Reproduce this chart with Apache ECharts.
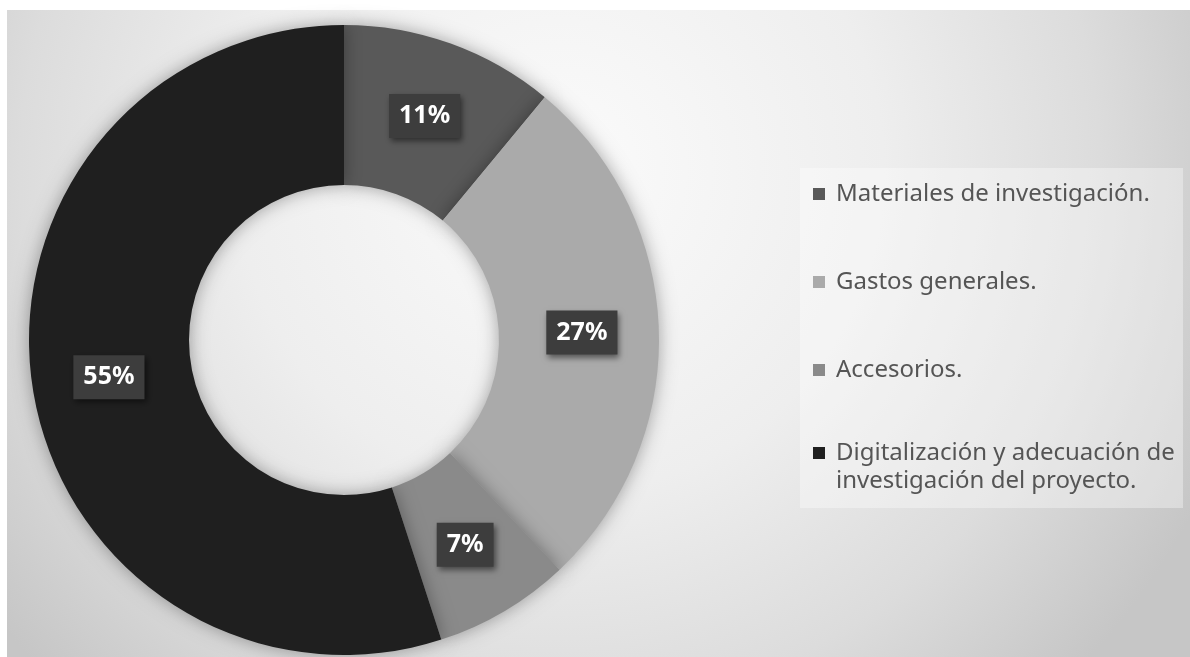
<!DOCTYPE html>
<html>
<head>
<meta charset="utf-8">
<script src="https://cdn.jsdelivr.net/npm/echarts@6/dist/echarts.min.js"></script>
<style>
    html, body { margin: 0; padding: 0; background: #ffffff; }
    #chartDonut { width: 1190px; height: 657px; }
</style>
</head>
<body>
<div id="chartDonut"></div>
<script>
    // datos
    var categorias = [
        'Materiales de investigación.',
        'Gastos generales.',
        'Accesorios.',
        'Digitalización y adecuación de investigación del proyecto.'
    ];
    var porcentajes = [11, 27, 7, 55];
    var colores = ['#595959', '#aaaaaa', '#8a8a8a', '#1f1f1f'];

    // cortes de línea de la leyenda como en el original
    var lineasLeyenda = {
        'Digitalización y adecuación de investigación del proyecto.':
            ['Digitalización y adecuación de', 'investigación del proyecto.']
    };

    function textoLeyenda(name) {
        var lineas = lineasLeyenda[name];
        if (!lineas) return '{t|' + name + '}';
        // línea vacía arriba para que el icono quede junto a la primera línea
        return '{t| }\n' + lineas.map(function (l) { return '{t|' + l + '}'; }).join('\n');
    }

    var estiloLeyenda = {
        color: '#555555',
        fontFamily: 'Noto Sans',
        fontSize: 24,
        lineHeight: 28,
        rich: {
            t: {
                color: '#555555',
                fontFamily: 'Noto Sans',
                fontSize: 24,
                lineHeight: 28,
                padding: [0, 0, 0, 6]
            }
        }
    };

    var chartDonut = echarts.init(document.getElementById('chartDonut'));

    chartDonut.setOption({
        backgroundColor: '#ffffff',
        color: colores,
        graphic: [
            {
                type: 'rect',
                z: -10,
                shape: { x: 7, y: 10, width: 1183, height: 647 },
                style: {
                    fill: {
                        type: 'radial', x: 560, y: 170, r: 720, global: true,
                        colorStops: [
                            { offset: 0, color: '#fbfbfb' },
                            { offset: 0.45, color: '#eeeeee' },
                            { offset: 0.75, color: '#dcdcdc' },
                            { offset: 1, color: '#c6c6c6' }
                        ]
                    }
                }
            },
            {
                type: 'rect',
                z: -9,
                shape: { x: 800, y: 168, width: 383, height: 340 },
                style: { fill: 'rgba(255,255,255,0.35)' }
            }
        ],
        legend: [
            {
                orient: 'vertical',
                left: 813,
                top: 180,
                itemWidth: 12,
                itemHeight: 12,
                itemGap: 60,
                icon: 'rect',
                padding: 0,
                data: categorias.slice(0, 3),
                formatter: textoLeyenda,
                textStyle: estiloLeyenda
            },
            {
                orient: 'vertical',
                left: 813,
                top: 411,
                itemWidth: 12,
                itemHeight: 12,
                icon: 'rect',
                padding: 0,
                data: categorias.slice(3),
                formatter: textoLeyenda,
                textStyle: estiloLeyenda
            }
        ],
        series: [
            {
                name: 'Presupuesto',
                type: 'pie',
                center: [344, 340],
                radius: [155, 315],
                startAngle: 90,
                percentPrecision: 0,
                avoidLabelOverlap: false,
                itemStyle: {
                    shadowBlur: 18,
                    shadowColor: 'rgba(0, 0, 0, 0.35)'
                },
                label: {
                    show: true,
                    position: 'inside',
                    formatter: '{d}%',
                    color: '#ffffff',
                    fontFamily: 'Noto Sans',
                    fontWeight: 'bold',
                    fontSize: 25,
                    backgroundColor: '#3d3d3d',
                    padding: [10, 10, 9, 10],
                    shadowBlur: 6,
                    shadowColor: 'rgba(0, 0, 0, 0.5)',
                    shadowOffsetX: 2,
                    shadowOffsetY: 3
                },
                labelLine: { show: false },
                emphasis: { disabled: true },
                data: categorias.map(function (nombre, i) {
                    return { name: nombre, value: porcentajes[i] };
                })
            }
        ]
    });
</script>
</body>
</html>
